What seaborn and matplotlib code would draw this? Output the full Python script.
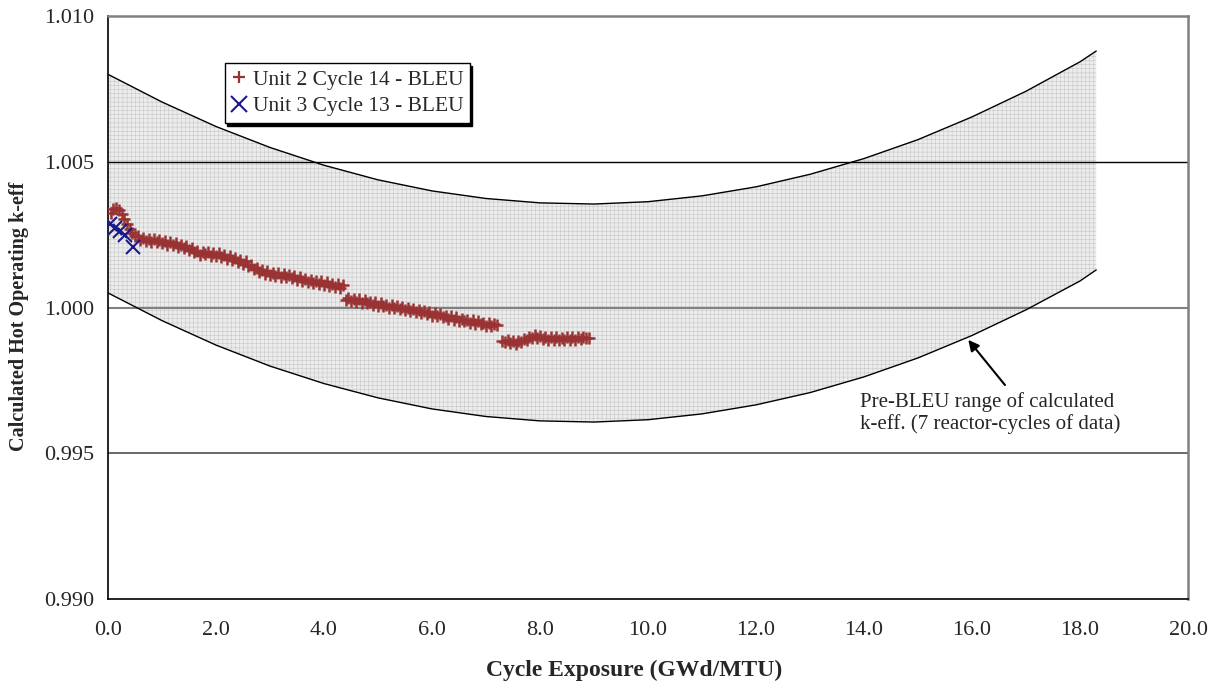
import numpy as np
import pandas as pd
import matplotlib
matplotlib.use("Agg")
import matplotlib.pyplot as plt
from matplotlib.ticker import MultipleLocator, FormatStrFormatter
from matplotlib.lines import Line2D
import seaborn as sns

# pre-BLEU band
band_x = [0.0, 1.0, 2.0, 3.0, 4.0, 5.0, 6.0, 7.0, 8.0, 9.0, 10.0, 11.0, 12.0,
          13.0, 14.0, 15.0, 16.0, 17.0, 18.0, 18.3]
band_upper = [1.00800, 1.00705, 1.00621, 1.00549, 1.00488, 1.00438, 1.00400,
              1.00374, 1.00359, 1.00355, 1.00363, 1.00383, 1.00414, 1.00457,
              1.00511, 1.00576, 1.00654, 1.00742, 1.00843, 1.00880]
band_lower = [1.00050, 0.99955, 0.99871, 0.99799, 0.99739, 0.99690, 0.99652,
              0.99626, 0.99611, 0.99607, 0.99615, 0.99635, 0.99666, 0.99708,
              0.99762, 0.99827, 0.99904, 0.99992, 1.00091, 1.00129]

# Unit 2 Cycle 14 - BLEU
u2_x = [0.05, 0.10, 0.15, 0.20, 0.25, 0.30, 0.35, 0.40, 0.45, 0.50,
        0.55, 0.60, 0.65, 0.70, 0.75, 0.80, 0.85, 0.90, 0.95, 1.00,
        1.05, 1.10, 1.15, 1.20, 1.25, 1.30, 1.35, 1.40, 1.45, 1.50,
        1.55, 1.60, 1.65, 1.70, 1.75, 1.80, 1.85, 1.90, 1.95, 2.00,
        2.05, 2.10, 2.15, 2.20, 2.25, 2.30, 2.35, 2.40, 2.45, 2.50,
        2.55, 2.60, 2.65, 2.70, 2.75, 2.80, 2.85, 2.90, 2.95, 3.00,
        3.05, 3.10, 3.15, 3.20, 3.25, 3.30, 3.35, 3.40, 3.45, 3.50,
        3.55, 3.60, 3.65, 3.70, 3.75, 3.80, 3.85, 3.90, 3.95, 4.00,
        4.05, 4.10, 4.15, 4.20, 4.25, 4.30, 4.35,
        4.40, 4.45, 4.50, 4.55, 4.60, 4.65, 4.70, 4.75, 4.80, 4.85,
        4.90, 4.95, 5.00, 5.05, 5.10, 5.15, 5.20, 5.25, 5.30, 5.35,
        5.40, 5.45, 5.50, 5.55, 5.60, 5.65, 5.70, 5.75, 5.80, 5.85,
        5.90, 5.95, 6.00, 6.05, 6.10, 6.15, 6.20, 6.25, 6.30, 6.35,
        6.40, 6.45, 6.50, 6.55, 6.60, 6.65, 6.70, 6.75, 6.80, 6.85,
        6.90, 6.95, 7.00, 7.05, 7.10, 7.15, 7.20,
        7.30, 7.35, 7.40, 7.45, 7.50, 7.55, 7.60, 7.65, 7.70, 7.75,
        7.80, 7.85, 7.90, 7.95, 8.00, 8.05, 8.10, 8.15, 8.20, 8.25,
        8.30, 8.35, 8.40, 8.45, 8.50, 8.55, 8.60, 8.65, 8.70, 8.75,
        8.80, 8.85, 8.90]
u2_k = [1.00325, 1.00338, 1.00342, 1.00335, 1.00322, 1.00305, 1.00288, 1.00270, 1.00255, 1.00245,
        1.00244, 1.00232, 1.00240, 1.00228, 1.00234, 1.00224, 1.00236, 1.00226, 1.00230, 1.00220,
        1.00228, 1.00216, 1.00224, 1.00214, 1.00220, 1.00208, 1.00216, 1.00204, 1.00210, 1.00198,
        1.00204, 1.00190, 1.00194, 1.00180, 1.00190, 1.00182, 1.00190, 1.00178, 1.00188, 1.00178,
        1.00186, 1.00172, 1.00180, 1.00168, 1.00176, 1.00164, 1.00170, 1.00156, 1.00164, 1.00150,
        1.00158, 1.00144, 1.00146, 1.00132, 1.00136, 1.00122, 1.00130, 1.00116, 1.00124, 1.00112,
        1.00120, 1.00108, 1.00118, 1.00106, 1.00114, 1.00104, 1.00112, 1.00100, 1.00108, 1.00096,
        1.00104, 1.00092, 1.00098, 1.00086, 1.00096, 1.00084, 1.00092, 1.00080, 1.00090, 1.00078,
        1.00086, 1.00074, 1.00082, 1.00070, 1.00080, 1.00068, 1.00076,
        1.00026, 1.00034, 1.00022, 1.00030, 1.00020, 1.00028, 1.00016, 1.00026, 1.00014, 1.00020,
        1.00010, 1.00018, 1.00006, 1.00014, 1.00004, 1.00010, 1.00000, 1.00008, 0.99998, 1.00004,
        0.99994, 1.00002, 0.99990, 0.99998, 0.99988, 0.99994, 0.99984, 0.99992, 0.99980, 0.99988,
        0.99976, 0.99984, 0.99972, 0.99980, 0.99970, 0.99976, 0.99966, 0.99972, 0.99962, 0.99970,
        0.99958, 0.99966, 0.99954, 0.99962, 0.99952, 0.99958, 0.99948, 0.99956, 0.99944, 0.99952,
        0.99942, 0.99948, 0.99938, 0.99946, 0.99936, 0.99944, 0.99940,
        0.99886, 0.99880, 0.99890, 0.99878, 0.99886, 0.99876, 0.99884, 0.99880, 0.99892, 0.99888,
        0.99900, 0.99894, 0.99904, 0.99896, 0.99902, 0.99892, 0.99900, 0.99890, 0.99900, 0.99890,
        0.99898, 0.99888, 0.99896, 0.99888, 0.99898, 0.99890, 0.99898, 0.99890, 0.99900, 0.99892,
        0.99900, 0.99894, 0.99896]

# Unit 3 Cycle 13 - BLEU
u3_x = [0.03, 0.13, 0.22, 0.32, 0.47]
u3_k = [1.00285, 1.00272, 1.00262, 1.00248, 1.00208]

red = "#993333"
navy = "#1a1a8c"

sns.set_style("white")
plt.rcParams["font.family"] = ["Liberation Serif", "DejaVu Serif"]
plt.rcParams["hatch.linewidth"] = 0.35
plt.rcParams["hatch.color"] = "#c4c4c4"

fig = plt.figure(figsize=(12.19, 6.88), dpi=100)
ax = fig.add_axes([0.0886, 0.1294, 0.886, 0.8473])

ax.fill_between(band_x, band_lower, band_upper, facecolor="#ececec",
                hatch="++++", edgecolor="#c4c4c4", linewidth=0, zorder=1)

# horizontal grid lines
ax.axhline(1.005, color="black", lw=1.0, zorder=2)
ax.axhline(1.000, color="#808080", lw=1.5, zorder=2)
ax.axhline(0.995, color="#505050", lw=1.2, zorder=2)

band = pd.DataFrame({"x": band_x, "upper": band_upper, "lower": band_lower})
sns.lineplot(data=band, x="x", y="upper", color="black", lw=1.0, ax=ax, zorder=3)
sns.lineplot(data=band, x="x", y="lower", color="black", lw=1.0, ax=ax, zorder=3)

ax.plot(u2_x, u2_k, linestyle="none", marker="+", markersize=9,
        markeredgewidth=1.8, color=red, zorder=4)
ax.plot(u3_x, u3_k, linestyle="none", marker="x", markersize=10.5,
        markeredgewidth=1.5, color=navy, zorder=5)

ax.set_xlim(0, 20)
ax.set_ylim(0.990, 1.010)
ax.xaxis.set_major_locator(MultipleLocator(2.0))
ax.xaxis.set_minor_locator(MultipleLocator(0.4))
ax.yaxis.set_major_locator(MultipleLocator(0.005))
ax.yaxis.set_minor_locator(MultipleLocator(0.001))
ax.xaxis.set_major_formatter(FormatStrFormatter("%.1f"))
ax.yaxis.set_major_formatter(FormatStrFormatter("%.3f"))

ax.tick_params(axis="both", which="major", direction="inout", length=12,
               width=1.0, labelsize=16, color="black", pad=10)
ax.tick_params(axis="both", which="minor", direction="in", length=5,
               width=1.0, color="black")
ax.tick_params(axis="y", which="major", pad=4)

for side in ["left", "bottom"]:
    ax.spines[side].set_color("black")
    ax.spines[side].set_linewidth(1.2)
for side in ["top", "right"]:
    ax.spines[side].set_color("#808080")
    ax.spines[side].set_linewidth(1.8)

ax.set_xlabel("Cycle Exposure (GWd/MTU)", fontsize=17, fontweight="bold")
ax.set_ylabel("Calculated Hot Operating k-eff", fontsize=14.5, fontweight="bold")
ax.xaxis.set_label_coords(0.4875, -0.104)
ax.yaxis.set_label_coords(-0.073, 0.485)

handles = [
    Line2D([], [], linestyle="none", marker="+", markersize=9,
           markeredgewidth=1.6, color=red, label="Unit 2 Cycle 14 - BLEU"),
    Line2D([], [], linestyle="none", marker="x", markersize=11,
           markeredgewidth=1.5, color=navy, label="Unit 3 Cycle 13 - BLEU"),
]
leg = ax.legend(handles=handles, loc="upper left",
                bbox_to_anchor=(0.108, 0.919), fontsize=15.5, frameon=True,
                fancybox=False, shadow={"color": "black", "alpha": 1.0},
                handlelength=0.7, handletextpad=0.3, borderpad=0.3,
                labelspacing=0.3, borderaxespad=0)
leg.get_frame().set_edgecolor("black")
leg.get_frame().set_linewidth(1.0)
leg.set_zorder(10)

ax.text(13.93, 0.99638,
        "Pre-BLEU range of calculated\nk-eff. (7 reactor-cycles of data)",
        fontsize=15, va="center", ha="left", linespacing=1.2)
ax.annotate("", xy=(15.93, 0.99889), xytext=(16.61, 0.99734),
            arrowprops=dict(arrowstyle="-|>", color="black", lw=1.5,
                            mutation_scale=16, shrinkA=0, shrinkB=0))

fig.savefig("out.png", dpi=100)
